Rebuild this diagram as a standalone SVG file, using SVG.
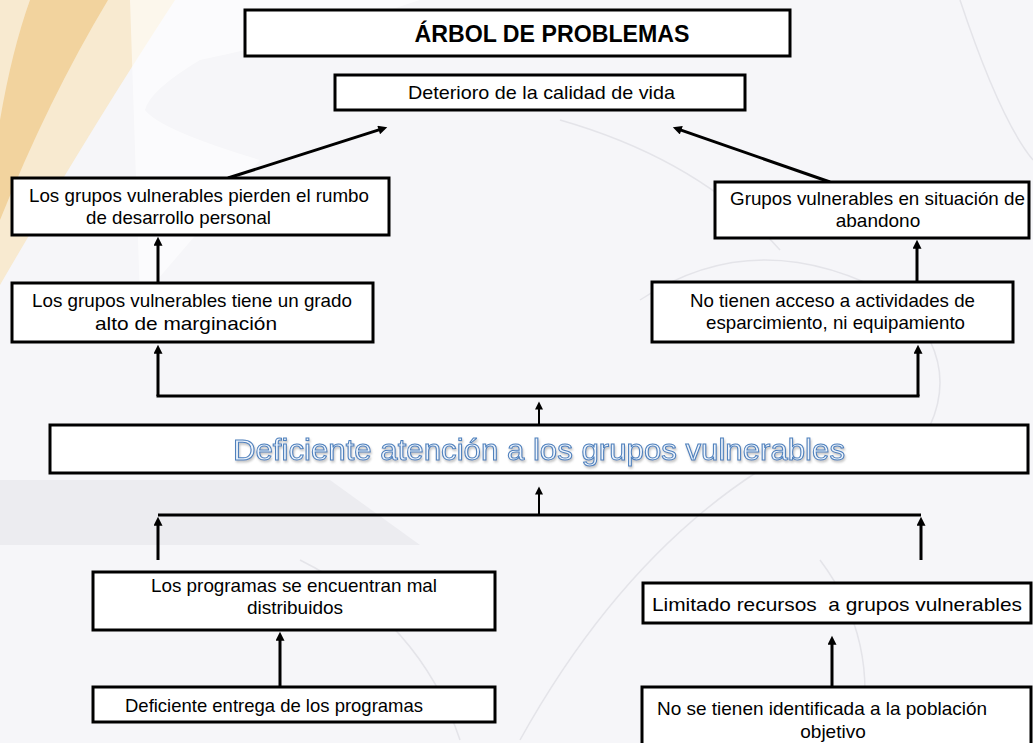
<svg xmlns="http://www.w3.org/2000/svg" width="1033" height="743" viewBox="0 0 1033 743">
<defs>
<marker id="ah" viewBox="0 0 10 10" refX="2" refY="5" markerWidth="10" markerHeight="9" markerUnits="userSpaceOnUse" orient="auto"><path d="M0,0 L10,5 L0,10 Z" fill="#000"/></marker>
<marker id="ahs" viewBox="0 0 10 10" refX="2" refY="5" markerWidth="9" markerHeight="8" markerUnits="userSpaceOnUse" orient="auto"><path d="M0,0 L10,5 L0,10 Z" fill="#000"/></marker>
<filter id="sh" x="-5%" y="-30%" width="110%" height="170%"><feGaussianBlur in="SourceAlpha" stdDeviation="1.2"/><feOffset dx="1" dy="2" result="b"/><feFlood flood-color="#8a8a8a" flood-opacity="0.5"/><feComposite in2="b" operator="in"/><feMerge><feMergeNode/><feMergeNode in="SourceGraphic"/></feMerge></filter>
<style>
.box{fill:#fff;stroke:#000;stroke-width:3}
.t{font-family:"Liberation Sans",Arial,sans-serif;font-size:19px;fill:#000}
.title{font-family:"Liberation Sans",Arial,sans-serif;font-size:23px;font-weight:bold;fill:#000}
.big{font-family:"Liberation Sans",Arial,sans-serif;font-size:29px;fill:#eef4fc;stroke:#4f81bd;stroke-width:1}
.c{fill:none;stroke:#000;stroke-width:3}
.cs{fill:none;stroke:#000;stroke-width:2}
.wm{fill:none;stroke:#e4e4e9;stroke-width:1.5}
</style>
</defs>
<g id="background">
<rect width="1033" height="743" fill="#f6f6f9"/>
<path d="M0,0 L175,0 Q90,130 0,285 Z" fill="#f8ead0"/>
<path d="M30,0 L108,0 Q48,100 0,220 L0,120 Q12,50 30,0 Z" fill="#f2d39e"/>
<path d="M130,0 L420,0 Q300,40 200,60 Q150,90 145,110 Q160,130 260,160 L140,300 Z" fill="#ffffff" opacity="0.6"/>
<path d="M0,480 L330,480 L420,545 L0,545 Z" fill="#ececf0"/>
<path d="M520,740 Q620,560 760,470" class="wm"/>
<path d="M640,300 Q760,220 900,300 Q980,380 900,470" class="wm"/>
<path d="M820,560 Q880,640 860,740" class="wm"/>
<path d="M560,120 Q700,160 780,250" class="wm"/>
<path d="M300,560 Q420,620 460,740" class="wm"/>
<path d="M960,0 Q1000,120 1033,160" class="wm"/>
</g>
<g id="connectors">
<line x1="228" y1="178" x2="380.4" y2="129.4" class="c" marker-end="url(#ah)"/>
<line x1="830" y1="182" x2="679.6" y2="129.6" class="c" marker-end="url(#ah)"/>
<line x1="158" y1="283" x2="158" y2="244" class="c" marker-end="url(#ah)"/>
<line x1="917" y1="282" x2="917" y2="247" class="c" marker-end="url(#ah)"/>
<line x1="156.5" y1="396" x2="919.5" y2="396" class="c"/>
<line x1="158" y1="396" x2="158" y2="352" class="c" marker-end="url(#ah)"/>
<line x1="918" y1="396" x2="918" y2="352" class="c" marker-end="url(#ah)"/>
<line x1="539" y1="424" x2="539" y2="408" class="cs" marker-end="url(#ahs)"/>
<line x1="539" y1="514" x2="539" y2="493" class="cs" marker-end="url(#ahs)"/>
<line x1="158" y1="515" x2="921" y2="515" class="c"/>
<line x1="158" y1="560" x2="158" y2="524" class="c" marker-end="url(#ah)"/>
<line x1="921" y1="560" x2="921" y2="524" class="c" marker-end="url(#ah)"/>
<line x1="280" y1="687" x2="280" y2="639" class="c" marker-end="url(#ah)"/>
<line x1="832" y1="687" x2="832" y2="643" class="c" marker-end="url(#ah)"/>
</g>
<g id="title">
<rect x="245" y="10" width="545" height="46" class="box"/>
<text x="552" y="42" class="title" text-anchor="middle" textLength="275" lengthAdjust="spacingAndGlyphs">ÁRBOL DE PROBLEMAS</text>
</g>
<g id="n-deterioro">
<rect x="335" y="75" width="410" height="35" class="box"/>
<text x="408" y="99" class="t" textLength="267" lengthAdjust="spacingAndGlyphs">Deterioro de la calidad de vida</text>
</g>
<g id="n-pierden">
<rect x="12" y="178" width="377" height="57" class="box"/>
<text x="29" y="202" class="t" textLength="340" lengthAdjust="spacingAndGlyphs">Los grupos vulnerables pierden el rumbo</text>
<text x="86" y="224" class="t" textLength="185" lengthAdjust="spacingAndGlyphs">de desarrollo personal</text>
</g>
<g id="n-marginacion">
<rect x="12" y="283" width="361" height="59" class="box"/>
<text x="32" y="307" class="t" textLength="320" lengthAdjust="spacingAndGlyphs">Los grupos vulnerables tiene un grado</text>
<text x="95" y="330" class="t" textLength="182" lengthAdjust="spacingAndGlyphs">alto de marginación</text>
</g>
<g id="n-abandono">
<rect x="715" y="182" width="314" height="56" class="box"/>
<text x="730" y="205" class="t" textLength="295" lengthAdjust="spacingAndGlyphs">Grupos vulnerables en situación de</text>
<text x="878" y="227" class="t" text-anchor="middle">abandono</text>
</g>
<g id="n-acceso">
<rect x="652" y="282" width="361" height="60" class="box"/>
<text x="690" y="307" class="t" textLength="285" lengthAdjust="spacingAndGlyphs">No tienen acceso a actividades de</text>
<text x="706" y="329" class="t" textLength="259" lengthAdjust="spacingAndGlyphs">esparcimiento, ni equipamiento</text>
</g>
<g id="n-central">
<rect x="50" y="425" width="978" height="48" class="box"/>
<text x="233" y="460" class="big" filter="url(#sh)" textLength="612" lengthAdjust="spacingAndGlyphs">Deficiente atención a los grupos vulnerables</text>
</g>
<g id="n-distribuidos">
<rect x="93" y="572" width="402" height="58" class="box"/>
<text x="151" y="592" class="t" textLength="286" lengthAdjust="spacingAndGlyphs">Los programas se encuentran mal</text>
<text x="295" y="614" class="t" text-anchor="middle">distribuidos</text>
</g>
<g id="n-entrega">
<rect x="93" y="687" width="402" height="35" class="box"/>
<text x="125" y="712" class="t" textLength="298" lengthAdjust="spacingAndGlyphs">Deficiente entrega de los programas</text>
</g>
<g id="n-recursos">
<rect x="643" y="583" width="388" height="40" class="box"/>
<text x="652" y="611" class="t" xml:space="preserve" textLength="370" lengthAdjust="spacingAndGlyphs">Limitado recursos  a grupos vulnerables</text>
</g>
<g id="n-poblacion">
<rect x="642" y="687" width="389" height="70" class="box"/>
<text x="657" y="715" class="t" textLength="330" lengthAdjust="spacingAndGlyphs">No se tienen identificada a la población</text>
<text x="833" y="738" class="t" text-anchor="middle">objetivo</text>
</g>
</svg>
